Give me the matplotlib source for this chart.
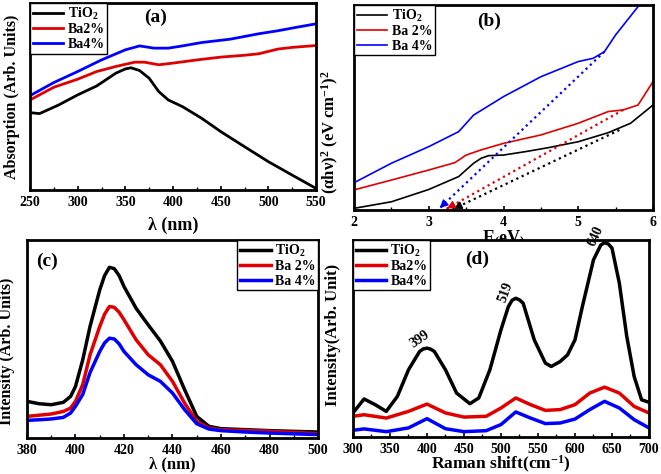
import numpy as np
import matplotlib
matplotlib.use('Agg')
import matplotlib.pyplot as plt

plt.rcParams['font.family'] = ['Liberation Serif', 'DejaVu Serif']
plt.rcParams['font.weight'] = 'bold'
plt.rcParams['axes.labelweight'] = 'bold'
plt.rcParams['mathtext.default'] = 'regular'
plt.rcParams['axes.linewidth'] = 2

# (a) absorption
wl_a = [250, 260, 280, 300, 320, 340, 350, 356, 365, 375, 385, 395, 410, 430, 450, 475, 500, 525, 550]
abs_tio2 = [41.4, 40.9, 45.5, 50.9, 55.7, 62.5, 64.8, 65.4, 63.9, 59.8, 52.7, 48.2, 44.6, 38.4, 31.3, 23.2, 15.2, 8.0, 0.9]
wl_a2 = [250, 275, 300, 320, 340, 360, 370, 385, 400, 425, 450, 475, 490, 510, 525, 550]
abs_ba2 = [48.2, 55.0, 59.3, 63.4, 66.1, 68.4, 68.4, 67.0, 67.9, 69.6, 71.1, 72.1, 72.9, 75.4, 76.3, 77.3]
wl_a4 = [250, 275, 300, 325, 350, 365, 380, 395, 410, 430, 460, 490, 510, 530, 550]
abs_ba4 = [50.5, 57.5, 63.4, 69.6, 75.0, 77.1, 75.9, 75.9, 77.1, 78.9, 80.7, 83.6, 85.2, 87.1, 88.9]

# (b) Tauc plot
e_tio2 = [2.0, 2.5, 3.0, 3.4, 3.6, 3.7, 3.8, 4.0, 4.3, 4.6, 5.0, 5.4, 5.7, 6.0]
t_tio2 = [0.8, 4.0, 10.0, 16.3, 22.8, 25.2, 26.5, 26.8, 28.5, 30.4, 33.3, 37.7, 42.3, 51.2]
e_ba2 = [2.0, 2.5, 3.0, 3.35, 3.5, 3.7, 4.0, 4.5, 5.0, 5.4, 5.6, 5.8, 6.0]
t_ba2 = [9.8, 14.6, 19.5, 23.1, 26.8, 29.3, 32.5, 36.6, 42.3, 48.0, 48.8, 51.2, 62.6]
e_ba4 = [2.0, 2.5, 3.0, 3.4, 3.6, 4.0, 4.5, 5.0, 5.2, 5.35, 5.5, 5.8, 5.9]
t_ba4 = [13.3, 22.8, 30.9, 38.2, 46.3, 55.3, 65.0, 72.4, 74.0, 77.2, 85.4, 99.2, 103.0]
# tangent lines: start point (on curve) and intercept on E axis
tan_start_x = [5.55, 5.6, 5.35]
tan_start_y = [39.0, 48.8, 77.2]
tan_end_x = [3.30, 3.21, 3.12]

# (c) PL
wl_c = [380, 385, 390, 395, 398, 400, 403, 406, 410, 412, 414, 416, 418, 420, 425, 430, 435, 440, 445, 450, 455, 460, 470, 480, 500]
pl_tio2 = [18.5, 17.3, 16.8, 18.0, 21.0, 26.0, 39.5, 56.3, 74.8, 82.0, 86.2, 85.5, 82.0, 76.5, 65.5, 57.1, 49.0, 38.7, 24.4, 10.9, 5.9, 4.7, 4.2, 3.7, 3.0]
pl_ba2 = [10.9, 11.5, 12.1, 13.4, 15.1, 18.5, 27.0, 42.0, 56.3, 62.5, 66.4, 66.0, 63.5, 59.7, 49.6, 42.0, 37.0, 28.6, 17.6, 8.4, 5.0, 4.2, 3.8, 3.4, 2.2]
pl_ba4 = [8.9, 9.2, 9.6, 10.4, 12.6, 16.0, 22.0, 33.0, 43.7, 48.0, 50.4, 50.0, 47.5, 43.7, 37.0, 31.9, 28.6, 22.7, 14.3, 7.2, 4.5, 3.7, 3.0, 2.5, 1.7]

# (d) Raman
rs = [300, 315, 330, 345, 360, 375, 390, 395, 400, 405, 410, 425, 440, 458, 470, 485, 500, 510, 515, 520, 525, 530, 545, 560, 568, 580, 590, 600, 610, 625, 635, 640, 645, 650, 660, 670, 680, 690, 700]
ram_tio2 = [12.2, 19.3, 16.4, 13.0, 20.6, 34.1, 43.4, 44.7, 45.1, 44.6, 43.4, 34.1, 22.3, 16.9, 19.8, 34.1, 54.4, 66.2, 69.4, 70.4, 69.6, 67.9, 49.3, 37.5, 35.8, 38.3, 41.7, 49.3, 66.2, 89.9, 97.5, 98.6, 98.0, 95.9, 78.0, 51.0, 30.7, 18.9, 17.6]
rs2 = [300, 315, 345, 375, 400, 425, 450, 480, 500, 520, 540, 560, 580, 600, 620, 640, 660, 680, 700]
ram_ba2 = [10.5, 11.3, 9.6, 13.0, 16.7, 12.2, 10.1, 10.5, 14.7, 19.8, 16.4, 13.5, 13.9, 16.4, 22.3, 25.3, 22.3, 15.5, 12.2]
ram_ba4 = [3.4, 4.1, 2.7, 4.6, 9.3, 4.2, 2.7, 3.2, 6.3, 12.7, 9.6, 6.8, 7.1, 9.1, 13.9, 18.1, 14.7, 8.8, 4.6]
peak_pos = [399, 519, 640]
peak_val = [45.1, 70.4, 98.6]
peak_rot = [35, 70, 65]

RED = '#e00000'
BLUE = '#0000ff'

fig = plt.figure(figsize=(6.61, 4.74), dpi=100)
ax_a = fig.add_axes([0.0454, 0.599, 0.4327, 0.3945])
ax_b = fig.add_axes([0.5356, 0.557, 0.4523, 0.4325])
ax_c = fig.add_axes([0.0408, 0.076, 0.4403, 0.4177])
ax_d = fig.add_axes([0.534, 0.0781, 0.4478, 0.4156])


def style(ax):
    ax.set_yticks([])
    ax.tick_params(axis='x', direction='in', length=3, width=1.2, labelsize=10, pad=4)
    ax.tick_params(axis='x', which='minor', direction='in', length=2, width=1)
    for lab in ax.get_xticklabels():
        lab.set_fontweight('bold')


def legend(ax, loc, lw):
    leg = ax.legend(loc=loc, borderaxespad=0, fancybox=False, framealpha=1,
                    edgecolor='black', fontsize=10, handlelength=2.2,
                    labelspacing=0.1, borderpad=0.2, handletextpad=0.3)
    leg.get_frame().set_linewidth(1)
    for line in leg.get_lines():
        line.set_linewidth(lw)


# (a)
ax_a.plot(wl_a, abs_tio2, color='black', lw=2, label='TiO$_2$')
ax_a.plot(wl_a2, abs_ba2, color=RED, lw=2, label='Ba2%')
ax_a.plot(wl_a4, abs_ba4, color=BLUE, lw=2, label='Ba4%')
ax_a.set_xlim(250, 550)
ax_a.set_ylim(0, 100)
ax_a.set_xticks(range(250, 551, 50))
ax_a.set_xticks(range(275, 550, 50), minor=True)
style(ax_a)
ax_a.set_xlabel('λ (nm)', fontsize=13, labelpad=6)
ax_a.set_ylabel('Absorption (Arb. Units)', fontsize=11.5)
ax_a.yaxis.set_label_coords(-0.035, 0.5)
ax_a.text(0.44, 0.9, '(a)', transform=ax_a.transAxes, fontsize=14, ha='center')
legend(ax_a, 'upper left', 2)

# (b)
ax_b.plot(e_tio2, t_tio2, color='black', lw=1.2, label='TiO$_2$')
ax_b.plot(e_ba2, t_ba2, color=RED, lw=1.2, label='Ba 2%')
ax_b.plot(e_ba4, t_ba4, color=BLUE, lw=1.2, label='Ba 4%')
for sx, sy, ex, c in zip(tan_start_x, tan_start_y, tan_end_x, ['black', RED, BLUE]):
    ax_b.plot([sx, ex], [sy, 0], ls=':', color=c, lw=1.6)
    dx = (ex - sx) * 0.06
    dy = -sy * 0.06
    ax_b.annotate('', xy=(ex, 0), xytext=(ex - dx, -dy),
                  arrowprops=dict(arrowstyle='-|>', color=c, lw=1, mutation_scale=12))
ax_b.set_xlim(2, 6)
ax_b.set_ylim(0, 100)
ax_b.set_xticks([2, 3, 4, 5, 6])
ax_b.set_xticks([2.5, 3.5, 4.5, 5.5], minor=True)
style(ax_b)
ax_b.set_xlabel('E$_($eV$_)$', fontsize=13, labelpad=0)
ax_b.set_ylabel('(αhν)$^2$ (eV cm$^{-1}$)$^2$', fontsize=12)
ax_b.yaxis.set_label_coords(-0.045, 0.38)
ax_b.text(0.45, 0.9, '(b)', transform=ax_b.transAxes, fontsize=14, ha='center')
legend(ax_b, 'upper left', 1.2)

# (c)
ax_c.plot(wl_c, pl_tio2, color='black', lw=2.5, label='TiO$_2$')
ax_c.plot(wl_c, pl_ba2, color=RED, lw=2.5, label='Ba 2%')
ax_c.plot(wl_c, pl_ba4, color=BLUE, lw=2.5, label='Ba 4%')
ax_c.set_xlim(380, 500)
ax_c.set_ylim(0, 100)
ax_c.set_xticks(range(380, 501, 20))
ax_c.set_xticks(range(390, 500, 20), minor=True)
style(ax_c)
ax_c.set_xlabel('λ (nm)', fontsize=12, labelpad=0)
ax_c.set_ylabel('Intensity (Arb. Units)', fontsize=11.5)
ax_c.yaxis.set_label_coords(-0.04, 0.44)
ax_c.text(0.03, 0.87, '(c)', transform=ax_c.transAxes, fontsize=14)
legend(ax_c, 'upper right', 2.5)

# (d)
ax_d.plot(rs, ram_tio2, color='black', lw=2.5, label='TiO$_2$')
ax_d.plot(rs2, ram_ba2, color=RED, lw=2.5, label='Ba2%')
ax_d.plot(rs2, ram_ba4, color=BLUE, lw=2.5, label='Ba4%')
for p, v, r in zip(peak_pos, peak_val, peak_rot):
    ax_d.text(p - 4, v + 2, str(p), rotation=r, fontsize=10, ha='center', va='bottom',
              rotation_mode='anchor')
ax_d.set_xlim(300, 700)
ax_d.set_ylim(0, 100)
ax_d.set_xticks(range(300, 701, 50))
ax_d.set_xticks(range(325, 700, 50), minor=True)
style(ax_d)
ax_d.set_xlabel('Raman shift(cm$^{-1}$)', fontsize=12.5, labelpad=-1)
ax_d.set_ylabel('Intensity(Arb. Unit)', fontsize=12)
ax_d.yaxis.set_label_coords(-0.04, 0.52)
ax_d.text(0.42, 0.88, '(d)', transform=ax_d.transAxes, fontsize=14, ha='center')
legend(ax_d, 'upper left', 2.5)

fig.savefig('out.png', dpi=100)
